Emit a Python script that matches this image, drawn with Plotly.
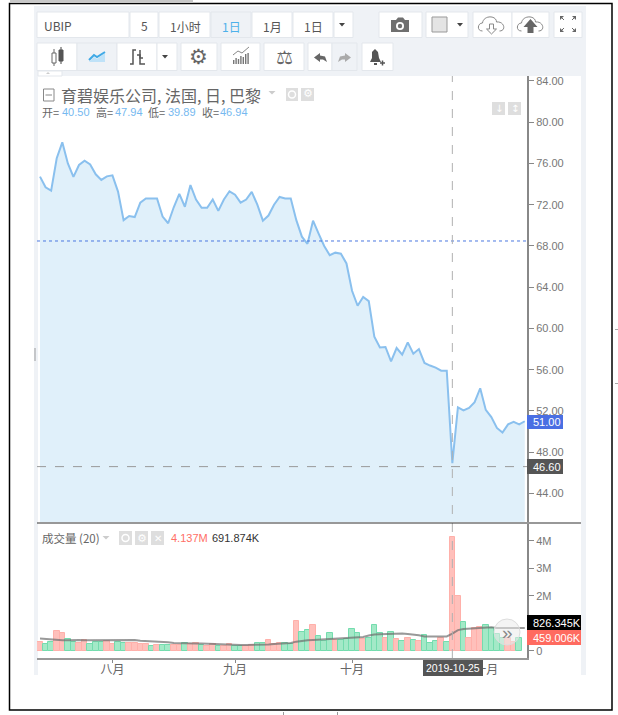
import plotly.graph_objects as go

# data
close = [74.72, 73.69, 73.36, 76.5, 78.05, 76.0, 74.7, 75.85, 76.27, 75.9, 74.95, 74.4, 74.75, 74.85, 73.27,
         70.5, 70.9, 70.8, 72.2, 72.6, 72.6, 72.6, 70.85, 70.2, 71.75, 73.05, 71.8, 73.9, 72.5, 71.7,
         71.7, 72.5, 71.4, 72.5, 73.3, 72.97, 72.2, 72.5, 73.25, 72.0, 70.45, 70.95, 72.0, 72.75, 72.6,
         72.6, 70.5, 68.9, 68.2, 70.45, 69.2, 68.0, 67.1, 67.35, 67.25, 66.3, 63.65, 62.2, 63.05, 62.65,
         59.2, 58.15, 58.2, 56.8, 58.1, 57.45, 58.65, 57.55, 58.0, 56.65, 56.4, 56.2, 55.9, 55.9, 46.94,
         52.35, 52.05, 52.3, 52.85, 54.2, 52.1, 51.4, 50.35, 49.9, 50.7, 50.95, 50.7, 51.0]
volume = [0.33, 0.25, 0.33, 0.70, 0.63, 0.41, 0.33, 0.28, 0.38, 0.25, 0.32, 0.32, 0.34, 0.23, 0.33,
          0.28, 0.28, 0.28, 0.23, 0.23, 0.17, 0.19, 0.19, 0.19, 0.19, 0.19, 0.28, 0.25, 0.27, 0.21,
          0.17, 0.23, 0.17, 0.17, 0.23, 0.17, 0.17, 0.17, 0.22, 0.29, 0.29, 0.39, 0.25, 0.29, 0.29,
          0.25, 1.08, 0.69, 0.76, 0.92, 0.52, 0.35, 0.63, 0.39, 0.39, 0.42, 0.80, 0.63, 0.42, 0.46,
          0.92, 0.63, 0.48, 0.69, 0.42, 0.35, 0.48, 0.39, 0.35, 0.56, 0.28, 0.35, 0.46, 0.32, 4.137,
          1.98, 1.03, 0.46, 0.82, 0.86, 0.92, 0.82, 0.59, 0.48, 0.46, 0.33, 0.46]
vol_side = ["p", "g", "g", "p", "p", "g", "g", "p", "p", "g", "g", "g", "p", "p", "g",
            "g", "p", "p", "p", "p", "g", "p", "g", "g", "p", "p", "g", "p", "p", "g",
            "p", "p", "g", "p", "p", "g", "g", "p", "p", "g", "g", "p", "p", "p", "g",
            "g", "p", "g", "g", "p", "g", "g", "g", "p", "g", "g", "g", "g", "p", "g",
            "g", "g", "p", "g", "p", "g", "p", "g", "p", "g", "g", "g", "p", "g", "p",
            "p", "g", "p", "p", "p", "g", "g", "g", "g", "p", "p", "g"]
vol_ma = [0.44, 0.42, 0.40, 0.38, 0.38, 0.38, 0.39, 0.39, 0.38, 0.38, 0.38, 0.38, 0.38, 0.38, 0.38,
          0.38, 0.39, 0.39, 0.36, 0.35, 0.35, 0.35, 0.34, 0.31, 0.28, 0.27, 0.27, 0.27, 0.26, 0.26,
          0.25, 0.24, 0.23, 0.23, 0.22, 0.21, 0.21, 0.21, 0.21, 0.22, 0.22, 0.23, 0.24, 0.25, 0.26,
          0.28, 0.33, 0.36, 0.38, 0.39, 0.40, 0.41, 0.42, 0.43, 0.44, 0.45, 0.47, 0.48, 0.50, 0.55,
          0.59, 0.60, 0.61, 0.63, 0.64, 0.63, 0.61, 0.59, 0.56, 0.52, 0.52, 0.52, 0.52, 0.52, 0.62,
          0.75, 0.79, 0.80, 0.80, 0.81, 0.84, 0.85, 0.83, 0.83, 0.82, 0.82, 0.82, 0.826]
month_pos = [13, 35, 56, 79]
month_labels = ["八月", "九月", "十月", "十一月"]
price_ticks = [44, 48, 52, 56, 60, 64, 68, 72, 76, 80, 84]
vol_ticks = [0, 1, 2, 3, 4]
vol_tick_labels = ["0", "1M", "2M", "3M", "4M"]
ref_price = 68.48
cross_price = 46.6
cross_idx = 74

W, H = 618, 715
CJK = "Noto Sans CJK SC, Liberation Sans, sans-serif"
LAT = "Liberation Sans, Noto Sans CJK SC, sans-serif"
PANEL = "#eff2f6"
EDGE = "#e3e7ec"
shapes, notes = [], []


def fx(x):
    return x / W


def fy(y):
    return 1 - y / H


def rect(x0, y0, x1, y1, fill="white", line=None, lw=1, layer="above"):
    shapes.append(dict(type="rect", xref="paper", yref="paper", x0=fx(x0), x1=fx(x1), y0=fy(y0), y1=fy(y1),
                       fillcolor=fill, line=dict(color=line or fill, width=lw if line else 0), layer=layer))


def poly(pts, fill=None, line=None, lw=1, close_it=True):
    d = "M" + " L".join(f"{fx(x):.5f},{fy(y):.5f}" for x, y in pts) + (" Z" if close_it else "")
    shapes.append(dict(type="path", xref="paper", yref="paper", path=d, fillcolor=fill or "rgba(0,0,0,0)",
                       line=dict(color=line or "rgba(0,0,0,0)", width=lw if line else 0), layer="above"))


def circle(cx, cy, r, fill=None, line=None, lw=1):
    shapes.append(dict(type="circle", xref="paper", yref="paper", x0=fx(cx - r), x1=fx(cx + r), y0=fy(cy + r), y1=fy(cy - r),
                       fillcolor=fill or "rgba(0,0,0,0)", line=dict(color=line or "rgba(0,0,0,0)", width=lw if line else 0), layer="above"))


def text(x, y, s, size=12, color="#555", anchor="left", font=CJK):
    notes.append(dict(xref="paper", yref="paper", x=fx(x), y=fy(y), text=s, showarrow=False, xanchor=anchor, yanchor="middle",
                      font=dict(size=size, color=color, family=font), borderpad=0, borderwidth=0))


def caret(cx, cy, color="#444", w=3):
    poly([(cx - w, cy - 1.5), (cx + w, cy - 1.5), (cx, cy + 2)], fill=color)


def cloud(cx, cy, color):
    d = (f"M{fx(cx-9):.5f},{fy(cy+6):.5f} C{fx(cx-15):.5f},{fy(cy+6):.5f} {fx(cx-14):.5f},{fy(cy-2):.5f} {fx(cx-9):.5f},{fy(cy-2):.5f} "
         f"C{fx(cx-8):.5f},{fy(cy-10):.5f} {fx(cx+5):.5f},{fy(cy-10):.5f} {fx(cx+5):.5f},{fy(cy-3):.5f} "
         f"C{fx(cx+13):.5f},{fy(cy-4):.5f} {fx(cx+15):.5f},{fy(cy+6):.5f} {fx(cx+8):.5f},{fy(cy+6):.5f}")
    shapes.append(dict(type="path", xref="paper", yref="paper", path=d, line=dict(color=color, width=1), layer="above"))


# page frame and toolbar panel
rect(10, 0, 193, 3, fill="#c8c8c8")
rect(9.5, 3.5, 612, 710, fill="rgba(0,0,0,0)", line="black", lw=1.5, layer="below")
rect(34, 6, 586, 76, fill=PANEL, layer="below")
rect(34, 76, 38, 675, fill=PANEL, layer="below")
rect(581, 76, 586, 675, fill=PANEL, layer="below")
rect(34, 348, 36, 361, fill="#c4c6c9", layer="below")
rect(615, 329, 618, 330, fill="#aaa", layer="below")
rect(615, 383, 618, 384, fill="#aaa", layer="below")
rect(283, 712, 284, 715, fill="#999", layer="below")
rect(337, 712, 338, 715, fill="#999", layer="below")

# toolbar buttons
row1 = [(37, 129), (130, 158), (159, 210), (211, 251), (252, 292), (293, 333), (334, 353),
        (379, 422), (426, 468), (473, 512), (512, 549), (554, 582)]
row2 = [(37, 77), (77, 117), (117, 157), (157, 177), (181, 217), (221, 260), (264, 304), (308, 332), (332, 357), (362, 393)]
for a, b in row1:
    rect(a, 12, b, 37.5, fill=PANEL if a == 211 else "white", line=EDGE, lw=1, layer="below")
for a, b in row2:
    rect(a, 43, b, 70.5, fill=PANEL if a in (77, 332) else "white", line=EDGE, lw=1, layer="below")
rect(38, 71, 62, 76, fill="white", line=EDGE, lw=1, layer="below")
poly([(46, 74), (50, 74), (48, 72)], fill="#ccc")

text(44, 25, "UBIP", 12, "#555")
text(144, 25, "5", 12, "#555", "center")
text(185, 26, "1小时", 12, "#555", "center")
text(231, 26, "1日", 12, "#4db1ea", "center")
text(272, 26, "1月", 12, "#555", "center")
text(313, 26, "1日", 12, "#555", "center")
caret(342, 24.5)

# camera
poly([(391, 20), (396, 20), (398, 17.5), (403, 17.5), (405, 20), (409, 20), (409, 32), (391, 32)], fill="#6f6f6f")
circle(400, 26, 4, fill="white")
circle(400, 26, 2.2, fill="#6f6f6f")
# colour picker
rect(432, 17, 447, 32, fill="#e4e4e4", line="#999")
caret(460, 24.5)
# clouds
cloud(491.5, 25, "#888")
poly([(489.5, 24), (493.5, 24), (493.5, 29), (496.5, 29), (491.5, 34), (486.5, 29), (489.5, 29)], fill="white", line="#888")
cloud(530.5, 25, "#888")
poly([(530.5, 19), (537.5, 27), (533.5, 27), (533.5, 33), (527.5, 33), (527.5, 27), (523.5, 27)], fill="#666")
# fullscreen
for sx, sy, cx, cy in [(-1, -1, 563, 19), (1, -1, 573, 19), (-1, 1, 563, 29), (1, 1, 573, 29)]:
    poly([(cx + sx * 3, cy + sy * 3), (cx - sx * 1, cy + sy * 3), (cx + sx * 3, cy - sy * 1)], fill="#666")
    poly([(cx + sx * 2, cy + sy * 2), (cx - sx * 1, cy - sy * 1)], line="#666", lw=1, close_it=False)

# candle icon
poly([(54, 49), (54, 66)], line="#666", close_it=False)
poly([(61, 47), (61, 64)], line="#444", close_it=False)
rect(52, 53, 56, 63, fill="white", line="#666")
rect(59, 50, 63, 61, fill="#555", line="#555")
# line icon
poly([(89, 62), (94, 57), (97, 59), (105, 53), (105, 62)], fill="#bfe2f8")
poly([(89, 60), (94, 55), (97, 57), (105, 52)], line="#3fa9e6", lw=2, close_it=False)
# bar icon
poly([(130, 64), (133, 64), (133, 50), (136, 50)], line="#555", lw=1.5, close_it=False)
poly([(140, 50), (140, 64), (145, 64)], line="#555", lw=1.5, close_it=False)
poly([(137, 55), (140, 55), (140, 58), (143, 58)], line="#555", lw=1.5, close_it=False)
caret(165, 56.5)
text(198, 57, "⚙", 21, "#666", "center", "DejaVu Sans")
# indicators icon
for i, h in enumerate([4, 6, 5, 8, 7, 10, 11]):
    rect(233 + i * 2.4, 64 - h, 234.4 + i * 2.4, 64, fill="#777")
poly([(233, 55), (238, 51), (242, 53), (249, 47)], line="#888", close_it=False)
text(284, 57, "⚖", 19, "#666", "center", "DejaVu Sans")
# undo / redo
poly([(314, 57.5), (320, 53), (320, 55.5), (325, 56.5), (327, 62), (323, 59.5), (320, 59.5), (320, 62)], fill="#666")
poly([(351, 57.5), (345, 53), (345, 55.5), (340, 56.5), (338, 62), (342, 59.5), (345, 59.5), (345, 62)], fill="#aaa")
# alert bell
poly([(370, 62), (372, 58), (372, 52), (375, 49), (378, 52), (379, 58), (381, 62)], fill="#555")
rect(374, 63, 377, 65, fill="#555")
poly([(380, 63), (385, 63)], line="#555", lw=1.5, close_it=False)
poly([(382.5, 60.5), (382.5, 65.5)], line="#555", lw=1.5, close_it=False)

# price legend
rect(43.5, 89, 54, 101, fill="white", line="#888")
poly([(45.5, 95), (52, 95)], line="#888", close_it=False)
text(61, 95, "育碧娱乐公司, 法国, 日, 巴黎", 16, "#666")
caret(272, 92.5, "#ccc", 3.5)
rect(286, 88, 298, 101, fill="#dedede")
circle(292, 94.5, 3.5, line="white", lw=1.5)
rect(301, 88, 314, 101, fill="#dedede")
text(307.5, 94, "⚙", 11, "white", "center", "DejaVu Sans")
for x, s in zip([42, 96, 148, 202], ["开=", "高=", "低=", "收="]):
    text(x, 112.5, s, 11, "#666")
for x, s in zip([62, 115, 168, 220], ["40.50", "47.94", "39.89", "46.94"]):
    text(x, 112.5, s, 11, "#76b9f0", font=LAT)
rect(492, 102, 505, 115, fill="#dedede")
rect(508, 102, 521, 115, fill="#dedede")
text(498.5, 108.5, "↓", 10, "white", "center", "DejaVu Sans")
text(514.5, 108.5, "↕", 10, "white", "center", "DejaVu Sans")

# volume legend
text(42, 538, "成交量 (20)", 11.5, "#666")
caret(106, 537.5, "#ccc", 3.5)
for a in [119, 135, 151]:
    rect(a, 531, a + 13, 545, fill="#dedede")
circle(125.5, 538, 3.5, line="white", lw=1.5)
text(141.5, 538, "⚙", 11, "white", "center", "DejaVu Sans")
text(157.5, 538, "✕", 10, "white", "center", "DejaVu Sans")
text(171, 538, "4.137M", 11, "#ff6f66", font=LAT)
text(212, 538, "691.874K", 11, "#333", font=LAT)

# crosshair and reference lines
shapes.append(dict(type="line", xref="x", yref="y", x0=-0.54, x1=87.4, y0=ref_price, y1=ref_price,
                   line=dict(color="#4a78e0", width=1, dash="dot"), layer="above"))
shapes.append(dict(type="line", xref="x", yref="y", x0=-0.54, x1=87.4, y0=cross_price, y1=cross_price,
                   line=dict(color="#999", width=1, dash="dash"), layer="above"))
shapes.append(dict(type="line", xref="x", yref="paper", x0=cross_idx, x1=cross_idx, y0=fy(658), y1=fy(76),
                   line=dict(color="#b0b0b0", width=1, dash="dash"), layer="above"))
# pane separator
rect(37, 522.5, 581, 523.5, fill="#333")
# scroll button
circle(507, 632, 13, fill="rgba(235,235,235,0.55)", line="#ddd")
text(507, 632, "»", 19, "#888", "center", LAT)

# axis tags
for y0, y1, fill, s, ty in [(415, 429, "#4a6fe3", "51.00", 422), (459, 474, "#555", "46.60", 467),
                            (615, 630, "black", "826.345K", 623), (630, 645, "#ff6b60", "459.006K", 638)]:
    rect(527, y0, 581 if "K" in s else 563, y1, fill=fill)
    text(533, ty, s, 11, "white", font=LAT)
rect(423, 660, 483, 676, fill="#555")
text(453, 668, "2019-10-25", 10.5, "white", "center", LAT)

bar_x = list(range(len(volume)))
fig = go.Figure()
fig.add_trace(go.Scatter(x=list(range(len(close))), y=close, mode="lines", fill="tozeroy", fillcolor="#e0f0fa",
                         line=dict(color="#8ac0ee", width=2), xaxis="x", yaxis="y", hoverinfo="skip"))
fig.add_trace(go.Bar(x=bar_x, y=volume, width=1,
                     marker=dict(color=["#ffc0bb" if s == "p" else "#a3e9c7" for s in vol_side],
                                 line=dict(color=["#ffb0aa" if s == "p" else "#74dcae" for s in vol_side], width=1)),
                     xaxis="x2", yaxis="y2", hoverinfo="skip"))
fig.add_trace(go.Scatter(x=list(range(len(vol_ma))), y=vol_ma, mode="lines", line=dict(color="rgba(110,110,110,0.7)", width=2),
                         xaxis="x2", yaxis="y2", hoverinfo="skip"))

x_range = [-0.54, 87.4]
x_dom = [fx(37), fx(527)]
fig.update_layout(
    width=W, height=H, margin=dict(l=0, r=0, t=0, b=0), showlegend=False,
    paper_bgcolor="white", plot_bgcolor="white", bargap=0,
    font=dict(family=LAT, size=11, color="#777"),
    xaxis=dict(domain=x_dom, range=x_range, visible=False, anchor="y", fixedrange=True),
    yaxis=dict(domain=[fy(522), fy(76)], range=[41.23, 84.48], side="right", anchor="x", tickmode="array",
               tickvals=price_ticks, ticktext=[f"{v:.2f}" for v in price_ticks], ticks="outside", ticklen=5, tickcolor="#888",
               showgrid=False, zeroline=False, showline=True, linecolor="#888", linewidth=2, fixedrange=True),
    xaxis2=dict(domain=x_dom, range=x_range, anchor="y2", tickmode="array", tickvals=month_pos, ticktext=month_labels,
                ticks="outside", ticklen=3, tickcolor="#888", showgrid=False, zeroline=False, showline=True,
                linecolor="#999", linewidth=2, fixedrange=True, ticklabelstandoff=-3,
                tickfont=dict(family=CJK, size=12, color="#666")),
    yaxis2=dict(domain=[fy(658), fy(524)], range=[-0.265, 4.607], side="right", anchor="x2", tickmode="array",
                tickvals=vol_ticks, ticktext=vol_tick_labels, ticks="outside", ticklen=5, tickcolor="#888",
                showgrid=False, zeroline=False, showline=True, linecolor="#888", linewidth=2, fixedrange=True),
    shapes=shapes, annotations=notes,
)

fig.write_html("out.html", config=dict(displayModeBar=False), post_script="document.body.style.margin='0';")
